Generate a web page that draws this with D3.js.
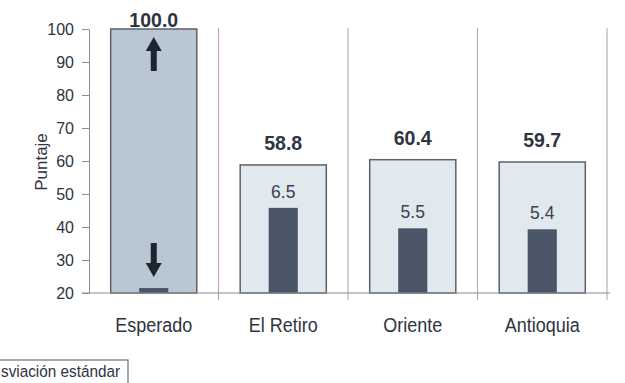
<!DOCTYPE html>
<html><head><meta charset="utf-8">
<script src="https://cdn.jsdelivr.net/npm/d3@7"></script>
<style>html,body{margin:0;padding:0;background:#fff;overflow:hidden}</style>
</head><body>
<svg id="c" width="625" height="383"></svg>
<script>
const categories = ["Esperado", "El Retiro", "Oriente", "Antioquia"];
const puntaje = [100.0, 58.8, 60.4, 59.7];
const desviacion = [null, 6.5, 5.5, 5.4];
const desvBarra = [21.5, 45.8, 39.6, 39.3];
const yTicks = [20, 30, 40, 50, 60, 70, 80, 90, 100];
const legendText = "sviación estándar";

const svg = d3.select("#c");
const font = "'Liberation Sans', Arial, sans-serif";
const x = d3.scaleBand().domain(categories).range([89, 607]).padding(0);
const y = d3.scaleLinear().domain([20, 100]).range([293, 29]);
const bw = x.bandwidth();

// separators
categories.forEach((c, i) => {
  const xx = x(c) + bw;
  svg.append("line").attr("x1", xx).attr("x2", xx)
    .attr("y1", y(100) - 1).attr("y2", 300)
    .attr("stroke", i === 0 ? "#c9a3a8" : "#aeb4bc").attr("stroke-width", 1.2);
});

// main bars
const mw = bw * 0.665;
svg.selectAll("rect.main").data(categories).enter().append("rect")
  .attr("x", d => x(d) + (bw - mw) / 2)
  .attr("y", (d, i) => y(puntaje[i]))
  .attr("width", mw)
  .attr("height", (d, i) => y(20) - y(puntaje[i]))
  .attr("fill", (d, i) => i === 0 ? "#b9c7d5" : "#e1e8ee")
  .attr("stroke", "#5b6169").attr("stroke-width", 1.5);

// dark bars
const dw = bw * 0.225;
svg.selectAll("rect.dev").data(categories).enter().append("rect")
  .attr("x", d => x(d) + (bw - dw) / 2)
  .attr("y", (d, i) => y(desvBarra[i]))
  .attr("width", dw)
  .attr("height", (d, i) => y(20) - y(desvBarra[i]))
  .attr("fill", "#4b5568");

// axes
const ax = svg.append("g").attr("transform", "translate(89,0)")
  .call(d3.axisLeft(y).tickValues(yTicks).tickSize(7).tickPadding(8).tickSizeOuter(0));
ax.select(".domain").attr("stroke", "#8a8f96");
ax.selectAll(".tick line").attr("stroke", "#8a8f96");
ax.selectAll(".tick text").attr("font-family", font).attr("font-size", 16).attr("fill", "#2e3440");

svg.append("line").attr("x1", 82).attr("x2", 610).attr("y1", y(20)).attr("y2", y(20))
  .attr("stroke", "#8a8f96").attr("stroke-width", 1.2);

// category labels
svg.selectAll("text.cat").data(categories).enter().append("text")
  .attr("transform", d => `translate(${x(d) + bw / 2},332) scale(1,1.12)`)
  .attr("text-anchor", "middle").attr("font-family", font).attr("font-size", 18)
  .attr("fill", "#2e3440").text(d => d);

// value labels
svg.selectAll("text.val").data(categories).enter().append("text")
  .attr("x", d => x(d) + bw / 2)
  .attr("y", (d, i) => i === 0 ? 27 : y(puntaje[i]) - 15)
  .attr("text-anchor", "middle").attr("font-family", font).attr("font-size", 19.5)
  .attr("font-weight", "bold").attr("fill", "#2e3440")
  .text((d, i) => puntaje[i].toFixed(1));

// deviation labels
svg.selectAll("text.dv").data(categories.filter((d, i) => desviacion[i] !== null)).enter().append("text")
  .attr("transform", d => `translate(${x(d) + bw / 2},${y(desvBarra[categories.indexOf(d)]) - 10}) scale(1,1.08)`)
  .attr("text-anchor", "middle").attr("font-family", font).attr("font-size", 17.5)
  .attr("fill", "#3a4250")
  .text(d => desviacion[categories.indexOf(d)].toFixed(1));

// arrows in Esperado bar
const cx = x("Esperado") + bw / 2;
function arrow(tipY, dir) {
  const headLen = 14, shaftLen = 20, hw = 8, sw = 3;
  const baseY = tipY - dir * headLen;
  const endY = baseY - dir * shaftLen;
  svg.append("path")
    .attr("d", `M${cx},${tipY} L${cx - hw},${baseY} L${cx - sw},${baseY} L${cx - sw},${endY} L${cx + sw},${endY} L${cx + sw},${baseY} L${cx + hw},${baseY} Z`)
    .attr("fill", "#1f252e");
}
arrow(37, -1);
arrow(277, 1);

// y label
svg.append("text").attr("transform", "translate(47,162) rotate(-90)")
  .attr("text-anchor", "middle").attr("font-family", font).attr("font-size", 17)
  .attr("fill", "#2e3440").text("Puntaje");

// legend (left part outside the picture in the reference)
svg.append("rect").attr("x", -60).attr("y", 360).attr("width", 188).attr("height", 40)
  .attr("fill", "#fff").attr("stroke", "#6a7078").attr("stroke-width", 1.2);
svg.append("text").attr("transform", "translate(1,377) scale(1,1.1)")
  .attr("font-family", font).attr("font-size", 15.3)
  .attr("fill", "#2e3440").text(legendText);
</script>
</body></html>
